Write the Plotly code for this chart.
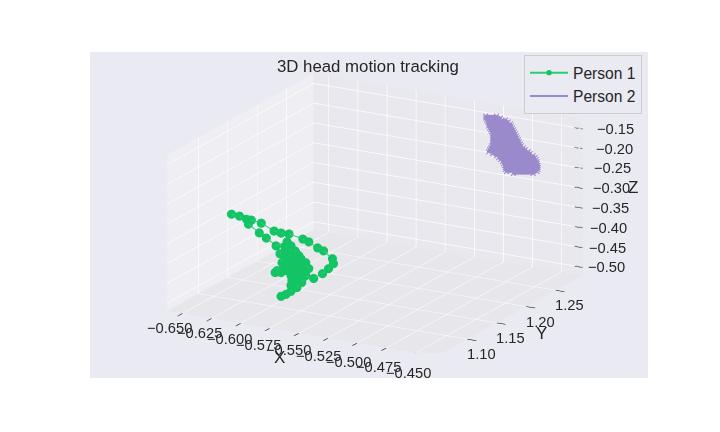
import plotly.graph_objects as go

# Person 1 track
p1_x = [-0.5921, -0.5879, -0.5836, -0.5785, -0.5743, -0.5709, -0.5683, -0.5709, -0.5751, -0.5777,
        -0.5819, -0.5836, -0.5811, -0.5751, -0.5794, -0.5853, -0.5879, -0.5921, -0.5972, -0.5913,
        -0.5930, -0.5887, -0.5836, -0.5870, -0.5964, -0.6048, -0.6108, -0.6201, -0.6278, -0.6346,
        -0.6218, -0.6176, -0.6091, -0.5981, -0.5921, -0.5853, -0.5734, -0.5683, -0.5607, -0.5556,
        -0.5480, -0.5471, -0.5514, -0.5565, -0.5641, -0.5726, -0.5768, -0.5717,
        -0.5887, -0.5845, -0.5802, -0.5768, -0.5802, -0.5845, -0.5887, -0.5879, -0.5836, -0.5794,
        -0.5751, -0.5717, -0.5751, -0.5794, -0.5836, -0.5879, -0.5955, -0.5913, -0.5870, -0.5828,
        -0.5785, -0.5743, -0.5709, -0.5717, -0.5751, -0.5794, -0.5836, -0.5828, -0.5785, -0.5743,
        -0.5794, -0.5836]
p1_y = [1.10, 1.10, 1.10, 1.10, 1.10, 1.10, 1.10, 1.10, 1.10, 1.10,
        1.10, 1.10, 1.10, 1.10, 1.10, 1.10, 1.10, 1.10, 1.10, 1.10,
        1.10, 1.10, 1.10, 1.10, 1.10, 1.10, 1.10, 1.10, 1.10, 1.10,
        1.10, 1.10, 1.10, 1.10, 1.10, 1.10, 1.10, 1.10, 1.10, 1.10,
        1.10, 1.10, 1.10, 1.10, 1.10, 1.10, 1.10, 1.10,
        1.10, 1.10, 1.10, 1.10, 1.10, 1.10, 1.10, 1.10, 1.10, 1.10,
        1.10, 1.10, 1.10, 1.10, 1.10, 1.10, 1.10, 1.10, 1.10, 1.10,
        1.10, 1.10, 1.10, 1.10, 1.10, 1.10, 1.10, 1.10, 1.10, 1.10,
        1.10, 1.10]
p1_z = [-0.491, -0.484, -0.474, -0.462, -0.447, -0.428, -0.409, -0.3955, -0.4125, -0.436,
        -0.456, -0.434, -0.408, -0.3875, -0.3745, -0.3925, -0.419, -0.431, -0.4335, -0.4055,
        -0.384, -0.364, -0.359, -0.351, -0.3655, -0.350, -0.340, -0.3225, -0.306, -0.3045,
        -0.311, -0.311, -0.3145, -0.329, -0.331, -0.330, -0.337, -0.3415, -0.353, -0.358,
        -0.374, -0.386, -0.401, -0.416, -0.432, -0.429, -0.418, -0.411,
        -0.3743, -0.3722, -0.3700, -0.3809, -0.3825, -0.3847, -0.3868, -0.3988, -0.3967, -0.3946,
        -0.3925, -0.4033, -0.4050, -0.4071, -0.4092, -0.4113, -0.4277, -0.4255, -0.4234, -0.4213,
        -0.4192, -0.4171, -0.4154, -0.4283, -0.4300, -0.4321, -0.4342, -0.4463, -0.4442, -0.4421,
        -0.4571, -0.4592]

# Person 2 track
p2_x = [-0.5028, -0.4934, -0.4900, -0.5028, -0.5019, -0.4858, -0.4832, -0.5011, -0.5002, -0.4815,
        -0.4807, -0.5002, -0.4994, -0.4798, -0.4790, -0.4985, -0.4977, -0.4781, -0.4773, -0.4968,
        -0.4968, -0.4764, -0.4756, -0.4968, -0.4968, -0.4747, -0.4739, -0.4968, -0.4968, -0.4730,
        -0.4722, -0.4977, -0.4985, -0.4705, -0.4688, -0.4994, -0.5002, -0.4662, -0.4645, -0.4968,
        -0.4934, -0.4620, -0.4603, -0.4917, -0.4900, -0.4595, -0.4586, -0.4883, -0.4875, -0.4586,
        -0.4578, -0.4866, -0.4858, -0.4578, -0.4578, -0.4858, -0.4849, -0.4586, -0.4620, -0.4790]
p2_y = [1.271, 1.271, 1.271, 1.271, 1.271, 1.271, 1.271, 1.271, 1.271, 1.271,
        1.271, 1.271, 1.271, 1.271, 1.271, 1.271, 1.271, 1.271, 1.271, 1.271,
        1.271, 1.271, 1.271, 1.271, 1.271, 1.271, 1.271, 1.271, 1.271, 1.271,
        1.271, 1.271, 1.271, 1.271, 1.271, 1.271, 1.271, 1.271, 1.271, 1.271,
        1.271, 1.271, 1.271, 1.271, 1.271, 1.271, 1.271, 1.271, 1.271, 1.271,
        1.271, 1.271, 1.271, 1.271, 1.271, 1.271, 1.271, 1.271, 1.271, 1.271]
p2_z = [-0.1322, -0.1275, -0.1308, -0.1372, -0.1418, -0.1337, -0.1374, -0.1463, -0.1509, -0.1416,
        -0.1462, -0.1559, -0.1605, -0.1508, -0.1553, -0.1651, -0.1696, -0.1599, -0.1645, -0.1742,
        -0.1792, -0.1691, -0.1736, -0.1842, -0.1892, -0.1782, -0.1828, -0.1942, -0.1992, -0.1874,
        -0.1920, -0.2046, -0.2101, -0.1961, -0.2003, -0.2155, -0.2209, -0.2040, -0.2081, -0.2242,
        -0.2275, -0.2119, -0.2160, -0.2317, -0.2358, -0.2206, -0.2252, -0.2400, -0.2446, -0.2302,
        -0.2348, -0.2491, -0.2537, -0.2398, -0.2448, -0.2587, -0.2633, -0.2502, -0.2569, -0.2653]

x_ticks = [-0.650, -0.625, -0.600, -0.575, -0.550, -0.525, -0.500, -0.475, -0.450]
x_labels = ['\u22120.650', '\u22120.625', '\u22120.600', '\u22120.575', '\u22120.550', '\u22120.525', '\u22120.500', '\u22120.475', '\u22120.450']
y_ticks = [1.10, 1.15, 1.20, 1.25]
y_labels = ['1.10', '1.15', '1.20', '1.25']
z_ticks = [-0.50, -0.45, -0.40, -0.35, -0.30, -0.25, -0.20, -0.15]
z_labels = ['\u22120.50', '\u22120.45', '\u22120.40', '\u22120.35', '\u22120.30', '\u22120.25', '\u22120.20', '\u22120.15']

x_range = [-0.663, -0.432]
y_range = [1.047, 1.296]
z_range = [-0.52, -0.125]

GREEN = '#12C464'
GREEN_LINE = '#2ECC71'
PURPLE = '#9B8ACB'
BG = '#EAEAF2'
TEXT = '#262626'
TICK_SIZE = 14.7


def axis(ticks, rng, pane, tick_style):
    return dict(
        title=dict(text=''),
        range=rng,
        tickvals=ticks,
        showticklabels=False,
        ticks=tick_style,
        ticklen=10,
        tickwidth=2,
        tickcolor=TEXT,
        gridcolor='white',
        gridwidth=1.5,
        showline=False,
        zeroline=False,
        showbackground=True,
        backgroundcolor=pane,
        showspikes=False,
    )


def label(x, y, z, text, dx, dy, size=TICK_SIZE):
    return dict(x=x, y=y, z=z, text=text, showarrow=False, xshift=dx, yshift=dy,
                font=dict(size=size, color=TEXT))


scene_labels = []
for i, (v, t) in enumerate(zip(x_ticks, x_labels)):
    scene_labels.append(label(v, y_range[0], z_range[0], t, -13 + 0.75 * i, -14 - 0.75 * i))
for v, t in zip(y_ticks, y_labels):
    scene_labels.append(label(x_range[1], v, z_range[0], t, 14, -15))
for i, (v, t) in enumerate(zip(z_ticks, z_labels)):
    scene_labels.append(label(x_range[1], y_range[1], v, t, 23.5 + 1.3 * i, 0))
scene_labels.append(label(-0.55, y_range[0], z_range[0], 'X', -19, -24, 17))
scene_labels.append(label(x_range[1], 1.17, z_range[0], 'Y', 33, -17, 17))
scene_labels.append(label(x_range[1], y_range[1], -0.30, 'Z', 50, 1, 17))

# short tick marks on the right hand z edge, points outside the range get clipped
tick_x, tick_y, tick_z = [], [], []
for v in z_ticks:
    tick_x += [x_range[1], x_range[1] - 0.007, None]
    tick_y += [y_range[1], y_range[1], None]
    tick_z += [v, v, None]

fig = go.Figure()
fig.add_trace(go.Scatter3d(x=p1_x, y=p1_y, z=p1_z, mode='lines+markers', name='Person 1',
                           line=dict(color=GREEN_LINE, width=2), marker=dict(color=GREEN, size=5.3)))
# thin trace for the legend, same track again with a wider line so the dense path reads solid
fig.add_trace(go.Scatter3d(x=p2_x, y=p2_y, z=p2_z, mode='lines+markers', name='Person 2',
                           line=dict(color=PURPLE, width=2), marker=dict(color=PURPLE, size=1.2, symbol='x')))
fig.add_trace(go.Scatter3d(x=p2_x, y=p2_y, z=p2_z, mode='lines', showlegend=False,
                           line=dict(color=PURPLE, width=5)))
fig.add_trace(go.Scatter3d(x=tick_x, y=tick_y, z=tick_z, mode='lines', showlegend=False,
                           line=dict(color=TEXT, width=2)))

fig.update_layout(
    width=720,
    height=432,
    margin=dict(l=0, r=0, t=0, b=0),
    paper_bgcolor='white',
    font=dict(family='Liberation Sans, Arial, sans-serif', color=TEXT),
    scene=dict(
        domain=dict(x=[82 / 720, 640 / 720], y=[1 - 370 / 432, 1 - 44 / 432]),
        bgcolor=BG,
        xaxis=axis(x_ticks, x_range, '#EEEEF3', 'outside'),
        yaxis=axis(y_ticks, y_range, '#E8E8EE', 'outside'),
        zaxis=axis(z_ticks, z_range, '#E7E7EB', ''),
        aspectmode='manual',
        aspectratio=dict(x=1.886, y=1.859, z=1.007),
        camera=dict(eye=dict(x=0.428, y=-0.851, z=0.306), center=dict(x=-0.032, y=-0.018, z=0),
                    projection=dict(type='orthographic')),
        annotations=scene_labels,
    ),
    legend=dict(x=516 / 720, y=1 - 47 / 432, xanchor='left', yanchor='top', bgcolor=BG, bordercolor='#CCCCCC',
                borderwidth=1, itemwidth=38, font=dict(size=15.6, color=TEXT)),
    annotations=[
        dict(text='3D head motion tracking', x=360 / 720, y=1 - 58 / 432, xref='paper', yref='paper',
             xanchor='center', yanchor='middle', showarrow=False, font=dict(size=16.8, color=TEXT))],
)

fig.write_html("out.html")
